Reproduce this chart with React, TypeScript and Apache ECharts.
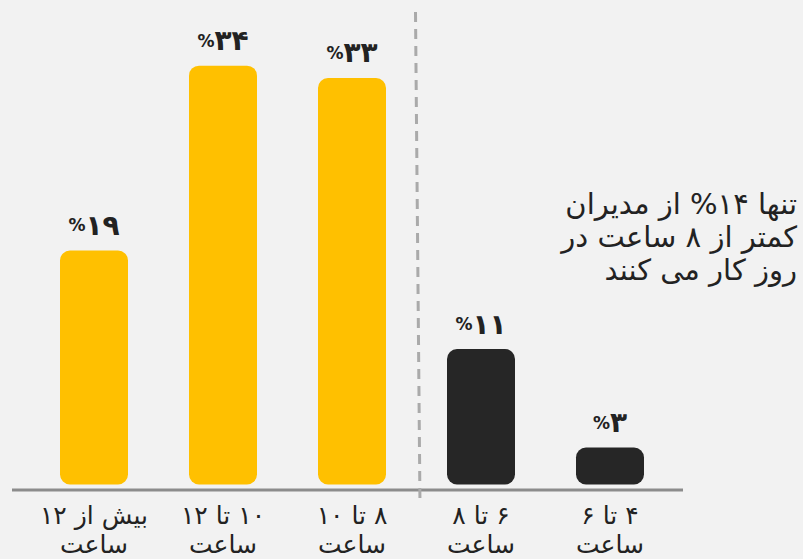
import React, { useEffect, useRef } from "react";
import * as echarts from "echarts";

const RLE = "\u202B";
const PDF = "\u202C";

const categories = [
  "بیش از ۱۲",
  "۱۰ تا ۱۲",
  "۸ تا ۱۰",
  "۶ تا ۸",
  "۴ تا ۶",
];
const unitLine = "ساعت";
const values = [19, 34, 33, 11, 3];
const valueLabels = ["۱۹", "۳۴", "۳۳", "۱۱", "۳"];
const barColors = ["#FFC000", "#FFC000", "#FFC000", "#262626", "#262626"];
const noteLines = [
  "تنها ۱۴% از مدیران",
  "کمتر از ۸ ساعت در",
  "روز کار می کنند",
];

const FONT = "'DejaVu Sans', 'Noto Sans', sans-serif";

export default function App() {
  const ref = useRef<HTMLDivElement>(null);
  useEffect(() => {
    if (!ref.current) return;
    const chart = echarts.init(ref.current, null, { renderer: "svg" });
    chart.setOption({
      animation: false,
      backgroundColor: "#f2f2f2",
      grid: { left: 29.5, right: 128.5, top: 41, bottom: 69 },
      xAxis: {
        type: "category",
        data: categories.map((c) => RLE + c + PDF + "\n" + unitLine),
        axisLine: { show: false },
        axisTick: { show: false },
        axisLabel: {
          interval: 0,
          hideOverlap: false,
          color: "#222",
          fontSize: 25,
          lineHeight: 29,
          margin: 14,
          fontFamily: FONT,
        },
      },
      yAxis: {
        type: "value",
        min: -0.2,
        max: 36,
        show: false,
        splitLine: { show: false },
      },
      series: [
        {
          type: "bar",
          barWidth: 68,
          data: values.map((v, i) => ({
            value: v,
            itemStyle: { color: barColors[i], borderRadius: 10 },
            label: {
              formatter: "{p|%}{n|" + valueLabels[i] + "}",
            },
          })),
          label: {
            show: true,
            position: "top",
            distance: 11,
            rich: {
              p: { fontSize: 17, fontWeight: "bold", color: "#222", fontFamily: FONT },
              n: { fontSize: 28, fontWeight: "bold", color: "#222", fontFamily: FONT },
            },
          },
        },
      ],
      graphic: [
        {
          type: "line",
          shape: { x1: 12, y1: 490, x2: 683, y2: 490 },
          style: { stroke: "#8c8c8c", lineWidth: 3 },
          z: 10,
        },
        {
          type: "line",
          shape: { x1: 415.5, y1: 12, x2: 420, y2: 505 },
          style: { stroke: "#aaaaaa", lineWidth: 3, lineDash: [10, 7] },
          z: 10,
        },
        {
          type: "text",
          x: 797,
          y: 187,
          style: {
            text: noteLines.map((l) => RLE + l + PDF).join("\n"),
            textAlign: "right",
            textVerticalAlign: "top",
            fontSize: 29,
            lineHeight: 33,
            fill: "#222",
            fontFamily: FONT,
          },
          z: 10,
        },
      ],
    });
    return () => chart.dispose();
  }, []);
  return (
    <div
      ref={ref}
      style={{ position: "fixed", left: 0, top: 0, width: 803, height: 559 }}
    />
  );
}
